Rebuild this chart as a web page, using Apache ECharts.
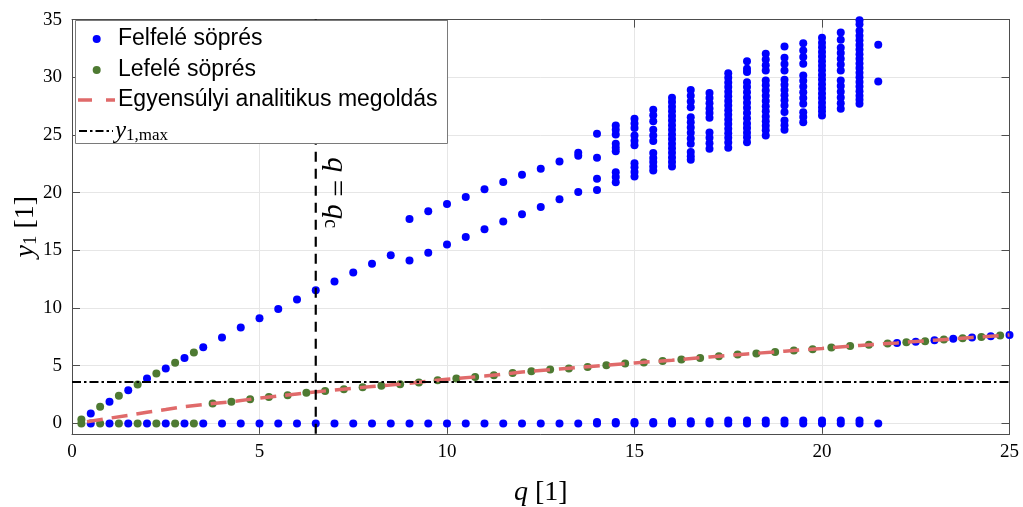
<!DOCTYPE html>
<html><head><meta charset="utf-8">
<script src="https://cdn.jsdelivr.net/npm/echarts@6/dist/echarts.min.js"></script>
<style>html,body{margin:0;padding:0;background:#fff}#c{width:1023px;height:507px}</style>
</head><body><div id="c"></div>
<script>
// ---------- data ----------
const xTicks = [0, 5, 10, 15, 20, 25];
const yTicks = [0, 5, 10, 15, 20, 25, 30, 35];
const qCrit = 6.5;      // vertical line q = q_c
const y1Max = 3.6;      // horizontal line y_1,max

// Felfelé söprés (blue)
const upZeroQ = [0.5,1,1.5,2,2.5,3,3.5,4,4.5,5,5.5,6,6.5,7,7.5,8,8.5,9,9.5,10,10.5,11,11.5,12,12.5,13,13.5,14,14.5,15,15.5,16,16.5,17,17.5,18,18.5,19,19.5,20,20.5,21,21.5];
const upNearZero = [[14,0.12],[14.5,0.12],[15,0.12],[15.5,0.12],[16,0.18],[16.5,0.18],[17,0.18],[17.5,0.25],[18,0.25],[18.5,0.25],[19,0.25],[19.5,0.25],[20,0.25],[20.5,0.25],[21,0.25]];
const upBranchLow = [[0.5,0.87],[1,1.87],[1.5,2.88],[2,3.9],[2.5,4.76],[3,5.68],[3.5,6.61],[4,7.45],[4.5,8.31],[5,9.12],[5.5,9.92],[6,10.74],[6.5,11.55],[7,12.3],[7.5,13.07],[8,13.83],[8.5,14.57],[9,14.12],[9.5,14.8],[10,15.5],[10.5,16.16],[11,16.82],[11.5,17.49],[12,18.12],[12.5,18.75],[13,19.42],[13.5,20.05]];
const upBranchHigh = [[9,17.71],[9.5,18.38],[10,19.01],[10.5,19.62],[11,20.29],[11.5,20.92],[12,21.56],[12.5,22.08],[13,22.71],[13.5,23.2],[13.5,23.46]];
const clusterQ = [14,14.5,15,15.5,16,16.5,17,17.5,18,18.5,19,19.5,20,20.5,21,21.5];
const clusterY = [
  [20.23,21.21,23.03,25.1],
  [20.9,21.35,21.78,23.6,23.9,24.24,25.05,25.45,25.83],
  [21.41,21.8,22.2,22.56,24.1,24.5,24.96,25.6,26.0,26.4],
  [21.93,22.27,22.65,23.0,23.43,24.47,24.96,25.45,26.2,26.7,27.18],
  [22.27,22.65,23.05,23.45,23.85,24.25,24.65,25.05,25.45,25.85,26.25,26.65,27.05,27.45,27.85,28.22],
  [22.86,23.15,23.52,24.24,24.7,25.2,25.65,26.1,26.54,27.41,27.9,28.4,28.9],
  [23.81,24.28,24.75,25.22,26.49,26.9,27.3,27.75,28.2,28.63],
  [23.9,24.35,24.75,25.15,25.55,25.95,26.35,26.75,27.15,27.55,27.95,28.35,28.75,29.15,29.55,29.95,30.36],
  [24.38,24.8,25.2,25.6,26.0,26.45,26.9,27.35,27.8,28.25,28.7,29.15,29.58,30.45,30.75,31.4],
  [24.96,25.4,25.8,26.2,26.6,27.05,27.5,27.95,28.4,28.85,29.3,29.72,30.59,31.05,31.55,32.03],
  [25.45,25.85,26.26,27.0,27.55,28.0,28.45,28.9,29.35,29.78,30.59,31.15,31.7,32.67],
  [26.11,26.55,26.98,27.71,28.2,28.7,29.2,29.7,30.16,31.17,31.75,32.32,32.95],
  [26.69,27.05,27.4,27.8,28.2,28.6,29.0,29.4,29.8,30.2,30.6,31.0,31.4,31.8,32.2,32.6,33.0,33.42],
  [27.27,27.75,28.25,28.75,29.25,29.72,30.59,31.1,31.6,32.1,32.55,33.25,33.88],
  [27.71,28.05,28.4,28.8,29.2,29.6,30.0,30.4,30.8,31.2,31.6,32.0,32.4,32.8,33.2,33.6,34.03,34.6,34.95],
  [29.64,32.81]
];
const upTail = [[22,6.98],[22.5,7.07],[23,7.21],[23.5,7.33],[24,7.45],[24.5,7.56],[25,7.67]];

// Lefelé söprés (green)
const downZeroQ = [0.25,0.75,1.25,1.75,2.25,2.75,3.25];
const downBranch = [[0.25,0.35],[0.75,1.44],[1.25,2.39],[1.75,3.38],[2.25,4.33],[2.75,5.25],[3.25,6.15]];
const downCurve = [[3.75,1.73],[4.25,1.87],[4.75,2.10],[5.25,2.30],[5.75,2.45],[6.25,2.65],[6.75,2.80],[7.25,2.97],[7.75,3.14],[8.25,3.26],[8.75,3.40],[9.25,3.55],[9.75,3.75],[10.25,3.90],[10.75,4.03],[11.25,4.18],[11.75,4.38],[12.25,4.53],[12.75,4.67],[13.25,4.76],[13.75,4.9],[14.25,5.05],[14.75,5.19],[15.25,5.28],[15.75,5.42],[16.25,5.54],[16.75,5.68],[17.25,5.83],[17.75,5.97],[18.25,6.06],[18.75,6.2],[19.25,6.32],[19.75,6.43],[20.25,6.58],[20.75,6.71],[21.25,6.81],[21.75,6.93],[22.25,7.04],[22.75,7.13],[23.25,7.27],[23.75,7.39],[24.25,7.5],[24.75,7.62]];

// Egyensúlyi analitikus megoldás (red dashed)
const eqQ = [0.4,1,1.5,2,2.5,3,3.5,3.75,4.25,5,6,7,8,9,10,11,12,13,14,15,16,17,18,19,20,21,22,23,24,25];
const eqY = [0.14,0.45,0.7,0.97,1.2,1.45,1.63,1.73,1.87,2.2,2.55,2.9,3.2,3.48,3.83,4.1,4.45,4.72,4.98,5.24,5.48,5.76,6.02,6.26,6.5,6.76,6.98,7.21,7.45,7.67];

const legendNames = ['Felfelé söprés', 'Lefelé söprés', 'Egyensúlyi analitikus megoldás'];

// ---------- build ----------
const X_MIN = 0, X_MAX = 25, Y_MIN = -0.9, Y_MAX = 35;
const blueData = [];
upZeroQ.forEach(q => blueData.push([q, 0]));
upNearZero.forEach(p => blueData.push(p));
upBranchLow.forEach(p => blueData.push(p));
upBranchHigh.forEach(p => blueData.push(p));
clusterQ.forEach((q, i) => clusterY[i].forEach(y => blueData.push([q, y])));
upTail.forEach(p => blueData.push(p));
const greenData = [];
downZeroQ.forEach(q => greenData.push([q, 0]));
downBranch.forEach(p => greenData.push(p));
downCurve.forEach(p => greenData.push(p));
const redData = eqQ.map((q, i) => [q, eqY[i]]);

const BLUE = '#0000ff', GREEN = '#4e7a32', RED = '#e06a6a', AX = '#4d4d4d';
const serif = 'Liberation Serif';
const sans = 'Liberation Sans';

const chart = echarts.init(document.getElementById('c'), null, {renderer: 'canvas'});

const tickLabel = {color: '#000', fontFamily: serif, fontSize: 19};
const option = {
  animation: false,
  backgroundColor: '#fff',
  grid: {left: 72, right: 13.5, top: 19.6, bottom: 73.2, containLabel: false, outerBoundsMode: 'none'},
  xAxis: [{
    type: 'value', min: X_MIN, max: X_MAX, interval: xTicks[1] - xTicks[0],
    axisLine: {show: true, onZero: false, lineStyle: {color: AX, width: 1}},
    axisTick: {show: true, inside: true, length: 8, lineStyle: {color: AX}},
    axisLabel: Object.assign({margin: 9}, tickLabel),
    splitLine: {show: true, lineStyle: {color: '#e6e6e6', width: 1}},
    name: '{i|q} [1]', nameLocation: 'middle', nameGap: 45, nameMoveOverlap: false,
    nameTextStyle: {color: '#000', fontFamily: serif, fontSize: 28,
      rich: {i: {fontFamily: serif, fontStyle: 'italic', fontSize: 28, color: '#000'}}}
  }, {
    type: 'value', position: 'top', min: X_MIN, max: X_MAX, interval: xTicks[1] - xTicks[0],
    axisLine: {show: true, onZero: false, lineStyle: {color: AX, width: 1}},
    axisTick: {show: true, inside: true, length: 8, lineStyle: {color: AX}},
    axisLabel: {show: false}, splitLine: {show: false}
  }],
  yAxis: [{
    type: 'value', min: Y_MIN, max: Y_MAX, splitNumber: yTicks.length,
    axisLine: {show: true, onZero: false, lineStyle: {color: AX, width: 1}},
    axisTick: {show: true, inside: true, length: 8, lineStyle: {color: AX}},
    axisLabel: Object.assign({margin: 10, showMinLabel: false}, tickLabel),
    splitLine: {show: true, lineStyle: {color: '#e6e6e6', width: 1}},
    name: '{i|y}{s|1} [1]', nameLocation: 'middle', nameGap: 31, nameRotate: 90, nameMoveOverlap: false,
    nameTextStyle: {color: '#000', fontFamily: serif, fontSize: 28,
      rich: {i: {fontFamily: serif, fontStyle: 'italic', fontSize: 28, color: '#000'},
             s: {fontFamily: serif, fontSize: 19, color: '#000', padding: [12, 0, 0, 0]}}}
  }, {
    type: 'value', position: 'right', min: Y_MIN, max: Y_MAX, splitNumber: yTicks.length,
    axisLine: {show: true, onZero: false, lineStyle: {color: AX, width: 1}},
    axisTick: {show: true, inside: true, length: 8, lineStyle: {color: AX}},
    axisLabel: {show: false}, splitLine: {show: false}
  }],
  series: [{
    name: legendNames[0], type: 'scatter', xAxisIndex: 0, yAxisIndex: 0,
    data: blueData, symbol: 'circle', symbolSize: 8, itemStyle: {color: BLUE, opacity: 1}
  }, {
    name: legendNames[1], type: 'scatter', xAxisIndex: 0, yAxisIndex: 0,
    data: greenData, symbol: 'circle', symbolSize: 8, itemStyle: {color: GREEN, opacity: 1}
  }, {
    name: legendNames[2], type: 'line', xAxisIndex: 0, yAxisIndex: 0,
    data: redData, symbol: 'none', lineStyle: {color: RED, width: 3.5, type: [16, 9]}
  }, {
    name: 'y1max', type: 'line', data: [[X_MIN, y1Max], [X_MAX, y1Max]], symbol: 'none',
    lineStyle: {color: '#000', width: 2, type: [9, 3, 2.5, 3]}
  }, {
    name: 'qc', type: 'line', data: [[qCrit, Y_MIN], [qCrit, Y_MAX]], symbol: 'none',
    lineStyle: {color: '#000', width: 2.2, type: [10, 7]}
  }]
};
chart.setOption(option);

// ---------- legend box and the q = q_c label ----------
const lp = chart.convertToPixel({gridIndex: 0}, [qCrit, 20.0]);
const rowY = [39, 70, 100, 131];
const L = 75.5, T = 20.5;
const FS = 23;
chart.setOption({graphic: [
  {type: 'rect', z: 100, z2: 0, shape: {x: L, y: T, width: 372, height: 123}, style: {fill: '#fff', stroke: '#7a7a7a', lineWidth: 1}},
  {type: 'circle', z: 100, z2: 5, shape: {cx: 96.7, cy: rowY[0], r: 4}, style: {fill: BLUE}},
  {type: 'text', z: 100, z2: 5, x: 118, y: rowY[0], style: {text: legendNames[0], fontFamily: sans, fontSize: FS, fill: '#000', verticalAlign: 'middle', align: 'left'}},
  {type: 'circle', z: 100, z2: 5, shape: {cx: 96.7, cy: rowY[1], r: 4}, style: {fill: GREEN}},
  {type: 'text', z: 100, z2: 5, x: 118, y: rowY[1], style: {text: legendNames[1], fontFamily: sans, fontSize: FS, fill: '#000', verticalAlign: 'middle', align: 'left'}},
  {type: 'line', z: 100, z2: 5, shape: {x1: 78, y1: rowY[2], x2: 115, y2: rowY[2]}, style: {stroke: RED, lineWidth: 3.5, lineDash: [14, 14]}},
  {type: 'text', z: 100, z2: 5, x: 118, y: rowY[2], style: {text: legendNames[2], fontFamily: sans, fontSize: FS, fill: '#000', verticalAlign: 'middle', align: 'left'}},
  {type: 'line', z: 100, z2: 5, shape: {x1: 79, y1: rowY[3], x2: 113, y2: rowY[3]}, style: {stroke: '#000', lineWidth: 2, lineDash: [8, 3, 2.5, 3]}},
  {type: 'text', z: 100, z2: 5, x: 115, y: rowY[3], style: {text: '{i|y}{s|1,max}', verticalAlign: 'middle', align: 'left',
     rich: {i: {fontFamily: serif, fontStyle: 'italic', fontSize: 25, fill: '#000'},
            s: {fontFamily: serif, fontSize: 17, fill: '#000', padding: [10, 0, 0, 0]}}}},
  {type: 'text', z: 50, x: lp[0] + 20, y: lp[1], rotation: -Math.PI / 2,
   style: {text: '{i|q} = {i|q}{s|c}', fontFamily: serif, fontSize: 30, fill: '#000', align: 'center', verticalAlign: 'middle',
     rich: {i: {fontFamily: serif, fontStyle: 'italic', fontSize: 30, fill: '#000'},
            s: {fontFamily: serif, fontSize: 20, fill: '#000', padding: [12, 0, 0, 0]}}}}
]});
</script>
</body></html>
